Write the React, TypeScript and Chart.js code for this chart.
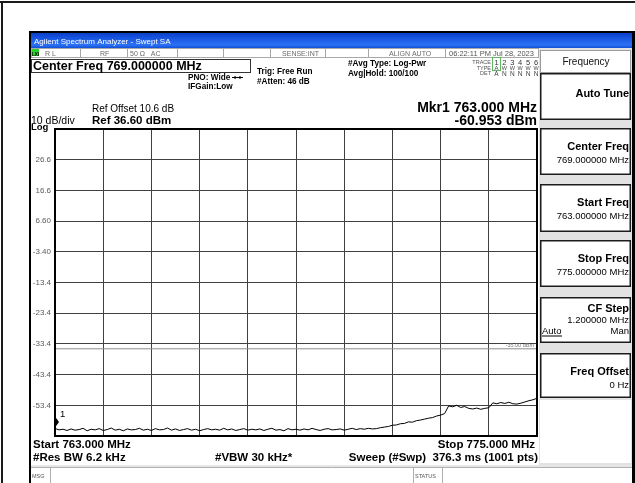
import React, { useEffect, useRef } from "react";
import { Chart, registerables } from "chart.js";

Chart.register(...registerables);

// ---------------- data ----------------
const START_FREQ = 763.0; // MHz
const STOP_FREQ = 775.0; // MHz
const TRACE_STEP = 0.1; // MHz between sampled trace points
const REF_LEVEL = 36.6; // dBm (top of graticule)
const BOTTOM_LEVEL = -63.4; // dBm
const DB_PER_DIV = 10;
const DISPLAY_LINE = -35.0; // dBm
const MARKER_FREQ = 763.0;
const MARKER_LEVEL = -60.953;

// x graticule positions (MHz)
const xGridFreqs = [763.0, 764.2, 765.4, 766.6, 767.8, 769.0, 770.2, 771.4, 772.6, 773.8, 775.0];

// y tick labels from top division to bottom division
const yTickLabels = ["", "26.6", "16.6", "6.60", "-3.40", "-13.4", "-23.4", "-33.4", "-43.4", "-53.4", ""];

// trace 1 levels (dBm), 763.0 .. 775.0 MHz every 0.1 MHz
const traceLevels = [
  -60.95, -61.4, -61.2, -61.6, -61.1, -61.5, -61.3, -60.9, -61.7, -61.2,
  -61.4, -61.0, -61.6, -61.3, -60.8, -61.5, -61.2, -61.7, -61.1, -61.4,
  -61.3, -60.9, -61.5, -61.2, -61.6, -61.0, -61.4, -61.3, -60.8, -61.5,
  -61.1, -61.6, -61.3, -61.0, -61.5, -61.2, -61.7, -61.3, -61.0, -61.4,
  -61.2, -61.5, -60.9, -61.4, -61.1, -61.6, -61.3, -61.0, -61.5, -61.2,
  -61.4, -61.1, -61.6, -61.2, -60.9, -61.5, -61.3, -61.7, -61.0, -61.4,
  -61.2, -61.5, -61.1, -61.4, -60.9, -61.3, -61.6, -61.2, -61.0, -61.4,
  -61.3, -61.1, -61.5, -61.2, -60.9, -61.3, -61.0, -61.2, -60.9, -61.1,
  -61.0, -60.7, -60.5, -60.3, -59.9, -59.8, -59.4, -59.3, -58.8, -58.9,
  -58.4, -58.2, -57.9, -57.6, -57.4, -56.9, -56.6, -56.1, -53.6, -53.9,
  -53.4, -54.1, -53.8, -54.4, -54.6, -54.3, -54.7, -54.4, -54.2, -52.6,
  -52.9, -52.5, -52.8, -52.4, -52.9, -53.0, -52.7, -52.3, -51.9, -51.6, -51.1,
];

// texts
const titleText = "Agilent Spectrum Analyzer - Swept SA";
const statusCells = ["R L", "RF", "50 \u03A9   AC", "SENSE:INT", "ALIGN AUTO", "06:22:11 PM Jul 28, 2023"];
const softkeyTitle = "Frequency";
const softkeyLabels = ["Auto Tune", "Center Freq", "Start Freq", "Stop Freq", "CF Step", "Freq Offset"];
const softkeyValues = ["", "769.000000 MHz", "763.000000 MHz", "775.000000 MHz", "1.200000 MHz", "0 Hz"];

const FONT = '"Liberation Sans", Arial, sans-serif';

function txt(
  ctx: CanvasRenderingContext2D,
  s: string,
  x: number,
  y: number,
  font: string,
  color = "#000",
  align: CanvasTextAlign = "left"
) {
  ctx.font = font + " " + FONT;
  ctx.fillStyle = color;
  ctx.textAlign = align;
  ctx.textBaseline = "alphabetic";
  ctx.fillText(s, x, y);
}

const chromePlugin = {
  id: "chrome",
  beforeDraw(chart: any) {
    const ctx: CanvasRenderingContext2D = chart.ctx;
    ctx.save();
    ctx.fillStyle = "#fff";
    ctx.fillRect(0, 0, 635, 483);

    // outer frame of page
    ctx.fillStyle = "#1a1a1a";
    ctx.fillRect(0, 1, 635, 2);
    ctx.fillRect(1, 1, 2, 483);

    // screen border
    ctx.fillStyle = "#000";
    ctx.fillRect(29, 31, 606, 2);
    ctx.fillRect(29, 31, 2, 452);
    ctx.fillRect(632, 31, 3, 452);

    // title bar
    const g = ctx.createLinearGradient(0, 33, 0, 48);
    g.addColorStop(0, "#0a3fc9");
    g.addColorStop(0.45, "#1d5ce6");
    g.addColorStop(0.8, "#2b72f4");
    g.addColorStop(1, "#114fd6");
    ctx.fillStyle = g;
    ctx.fillRect(31, 33, 601, 15);
    txt(ctx, titleText, 34, 44, "8px", "#fff");

    // status row
    ctx.fillStyle = "#fff";
    ctx.fillRect(31, 48, 508, 9);
    ctx.strokeStyle = "#a8a8a8";
    ctx.lineWidth = 1;
    ctx.strokeRect(31.5, 48.5, 507, 9);
    const seps = [80, 127, 177, 223, 270, 325, 368, 445];
    ctx.beginPath();
    seps.forEach((x) => {
      ctx.moveTo(x + 0.5, 48.5);
      ctx.lineTo(x + 0.5, 57.5);
    });
    ctx.stroke();
    // LXI icon
    ctx.fillStyle = "#2ecc2e";
    ctx.fillRect(32, 49, 7, 7);
    txt(ctx, "LXI", 35.5, 55.5, "bold 4.5px", "#000", "center");
    txt(ctx, statusCells[0], 45, 55.5, "7px", "#6a6a6a");
    txt(ctx, statusCells[1], 100, 55.5, "7px", "#6a6a6a");
    txt(ctx, statusCells[2], 130, 55.5, "7px", "#6a6a6a");
    txt(ctx, statusCells[3], 319, 55.5, "7px", "#6a6a6a", "right");
    txt(ctx, statusCells[4], 389, 55.5, "7px", "#6a6a6a");
    txt(ctx, statusCells[5], 449, 55.5, "7.5px", "#555");

    // Center freq box
    ctx.strokeStyle = "#333";
    ctx.lineWidth = 1;
    ctx.strokeRect(31.5, 59.5, 219, 13);
    txt(ctx, "Center Freq 769.000000 MHz", 33, 70, "bold 12.5px");

    txt(ctx, "PNO: Wide", 188, 80, "bold 8.2px");
    // PNO arrows
    ctx.strokeStyle = "#000";
    ctx.beginPath();
    ctx.moveTo(232, 77.5);
    ctx.lineTo(243, 77.5);
    ctx.stroke();
    ctx.fillStyle = "#000";
    ctx.beginPath();
    ctx.moveTo(237, 77.5);
    ctx.lineTo(234.5, 75.8);
    ctx.lineTo(234.5, 79.2);
    ctx.closePath();
    ctx.fill();
    ctx.beginPath();
    ctx.moveTo(238, 77.5);
    ctx.lineTo(240.5, 75.8);
    ctx.lineTo(240.5, 79.2);
    ctx.closePath();
    ctx.fill();
    txt(ctx, "IFGain:Low", 188, 89, "bold 8.2px");
    txt(ctx, "Trig: Free Run", 257, 74, "bold 8.2px");
    txt(ctx, "#Atten: 46 dB", 257, 84, "bold 8.2px");
    txt(ctx, "#Avg Type: Log-Pwr", 348, 66, "bold 8.2px");
    txt(ctx, "Avg|Hold: 100/100", 348, 76, "bold 8.2px");

    // trace info block
    txt(ctx, "TRACE", 491, 64, "5.5px", "#555", "right");
    txt(ctx, "TYPE", 491, 69.5, "5.5px", "#555", "right");
    txt(ctx, "DET", 491, 75, "5.5px", "#555", "right");
    ctx.strokeStyle = "#5cb85c";
    ctx.strokeRect(492.5, 57.5, 8, 13);
    const typeRow = ["A", "W", "W", "W", "W", "W"];
    const detRow = ["A", "N", "N", "N", "N", "N"];
    for (let i = 0; i < 6; i++) {
      const cx = 496.5 + i * 7.9;
      txt(ctx, String(i + 1), cx, 64.5, "7.5px", "#333", "center");
      txt(ctx, typeRow[i], cx, 69.8, i === 0 ? "6px" : "5.5px", "#444", "center");
      txt(ctx, detRow[i], cx, 75.5, "6.5px", "#444", "center");
    }

    // marker readout
    txt(ctx, "Mkr1 763.000 MHz", 537, 112, "bold 14px", "#000", "right");
    txt(ctx, "-60.953 dBm", 537, 125, "bold 14px", "#000", "right");

    // scale info
    txt(ctx, "Ref Offset 10.6 dB", 92, 112, "10px");
    txt(ctx, "10 dB/div", 31, 123.5, "10.5px");
    txt(ctx, "Ref 36.60 dBm", 92, 123.5, "bold 11.5px");
    txt(ctx, "Log", 31, 130, "bold 9.5px");

    // bottom annotations
    txt(ctx, "Start 763.000 MHz", 33, 448, "bold 11.5px");
    txt(ctx, "#Res BW 6.2 kHz", 33, 461, "bold 11.5px");
    txt(ctx, "#VBW 30 kHz*", 215, 461, "bold 11.5px");
    txt(ctx, "Stop 775.000 MHz", 535, 448, "bold 11.5px", "#000", "right");
    txt(ctx, "Sweep (#Swp)  376.3 ms (1001 pts)", 538, 461, "bold 11.5px", "#000", "right");

    // MSG bar
    ctx.fillStyle = "#e6e6e6";
    ctx.fillRect(31, 465, 601, 3);
    ctx.strokeStyle = "#b0b0b0";
    ctx.beginPath();
    ctx.moveTo(31, 467.5);
    ctx.lineTo(632, 467.5);
    [50, 413, 442].forEach((x) => {
      ctx.moveTo(x + 0.5, 468);
      ctx.lineTo(x + 0.5, 483);
    });
    ctx.stroke();
    txt(ctx, "MSG", 32, 478, "5.5px", "#555");
    txt(ctx, "STATUS", 415, 478, "5.5px", "#555");

    // softkey panel
    ctx.fillStyle = "#e2e2e2";
    ctx.fillRect(539, 48, 93, 417);
    ctx.fillStyle = "#fff";
    ctx.fillRect(540, 50, 91, 23);
    ctx.strokeStyle = "#9a9a9a";
    ctx.strokeRect(540.5, 50.5, 90, 22);
    txt(ctx, softkeyTitle, 586, 65, "10px", "#111", "center");
    const boxes = [
      [73, 120],
      [128, 175],
      [184, 232],
      [240, 287],
      [297, 343],
      [353, 398],
    ];
    boxes.forEach(([y0, y1], i) => {
      ctx.fillStyle = "#fff";
      ctx.fillRect(540, y0, 91, y1 - y0);
      ctx.strokeStyle = "#1c1c1c";
      ctx.lineWidth = 1.5;
      ctx.strokeRect(540.75, y0 + 0.75, 89.5, y1 - y0 - 1.5);
      ctx.lineWidth = 1;
      const hasVal = softkeyValues[i] !== "";
      const ly = hasVal ? y0 + (i === 4 ? 15 : 22) : y0 + 24;
      txt(ctx, softkeyLabels[i], 629, ly, "bold 11px", "#000", "right");
      if (hasVal) txt(ctx, softkeyValues[i], 629, ly + (i === 4 ? 11 : 13), "9.5px", "#000", "right");
    });
    // CF Step auto/man
    txt(ctx, "Auto", 542, 334, "9.5px", "#000");
    ctx.fillStyle = "#000";
    ctx.fillRect(542, 335.5, 20, 1);
    txt(ctx, "Man", 629, 334, "9.5px", "#000", "right");
    // empty lower part of panel
    ctx.fillStyle = "#fff";
    ctx.fillRect(540, 400, 91, 63);
    ctx.restore();
  },
  afterDatasetsDraw(chart: any) {
    const ctx: CanvasRenderingContext2D = chart.ctx;
    const a = chart.chartArea;
    const xs = chart.scales.x;
    const ys = chart.scales.y;
    ctx.save();
    // display line label
    txt(ctx, "-35.00 dBm", a.right - 3, ys.getPixelForValue(DISPLAY_LINE) - 2, "5.5px", "#777", "right");
    // marker
    const mx = xs.getPixelForValue(MARKER_FREQ);
    const my = ys.getPixelForValue(MARKER_LEVEL);
    ctx.beginPath();
    ctx.rect(a.left, a.top, a.right - a.left, a.bottom - a.top);
    ctx.clip();
    ctx.fillStyle = "#000";
    ctx.beginPath();
    ctx.moveTo(mx, my - 12);
    ctx.lineTo(mx + 4, my - 6.5);
    ctx.lineTo(mx, my - 1);
    ctx.lineTo(mx - 4, my - 6.5);
    ctx.closePath();
    ctx.fill();
    txt(ctx, "1", mx + 5, my - 11.5, "9.5px", "#000");
    ctx.restore();
    // frame
    ctx.save();
    ctx.strokeStyle = "#000";
    ctx.lineWidth = 2;
    ctx.strokeRect(a.left, a.top, a.right - a.left, a.bottom - a.top);
    ctx.restore();
  },
};

export default function App() {
  const ref = useRef<HTMLCanvasElement | null>(null);
  useEffect(() => {
    if (!ref.current) return;
    const points = traceLevels.map((v, i) => ({
      x: Math.round((START_FREQ + i * TRACE_STEP) * 1000) / 1000,
      y: v,
    }));
    const chart = new Chart(ref.current, {
      type: "line",
      data: {
        datasets: [
          {
            label: "Trace 1",
            data: points,
            borderColor: "#000",
            borderWidth: 1,
            pointRadius: 0,
            tension: 0,
            order: 1,
          },
          {
            label: "Display line",
            data: [
              { x: START_FREQ, y: DISPLAY_LINE },
              { x: STOP_FREQ, y: DISPLAY_LINE },
            ],
            borderColor: "#8c8c8c",
            borderWidth: 1,
            pointRadius: 0,
            order: 2,
          },
        ],
      },
      options: {
        responsive: false,
        animation: false,
        events: [],
        layout: { padding: { left: 29, top: 129, right: 98, bottom: 47 } },
        plugins: { legend: { display: false }, tooltip: { enabled: false } },
        scales: {
          x: {
            type: "linear",
            min: START_FREQ,
            max: STOP_FREQ,
            afterBuildTicks: (s: any) => {
              s.ticks = xGridFreqs.map((v) => ({ value: v }));
            },
            ticks: { display: false },
            grid: { color: "#404040", lineWidth: 1, drawTicks: false },
            border: { display: false },
            afterFit: (s: any) => {
              s.height = 0;
            },
          },
          y: {
            type: "linear",
            min: BOTTOM_LEVEL,
            max: REF_LEVEL,
            ticks: {
              stepSize: DB_PER_DIV,
              autoSkip: false,
              padding: 4,
              color: "#5a5a5a",
              font: { family: "Liberation Sans", size: 8 },
              callback: (v: any) => yTickLabels[Math.round((REF_LEVEL - Number(v)) / DB_PER_DIV)] ?? "",
            },
            grid: { color: "#404040", lineWidth: 1, drawTicks: false },
            border: { display: false },
            afterFit: (s: any) => {
              s.width = 26;
            },
          },
        },
      },
      plugins: [chromePlugin],
    } as any);
    return () => chart.destroy();
  }, []);
  return (
    <div style={{ position: "absolute", left: 0, top: 0, width: 635, height: 483 }}>
      <canvas ref={ref} width={635} height={483} style={{ display: "block" }} />
    </div>
  );
}
